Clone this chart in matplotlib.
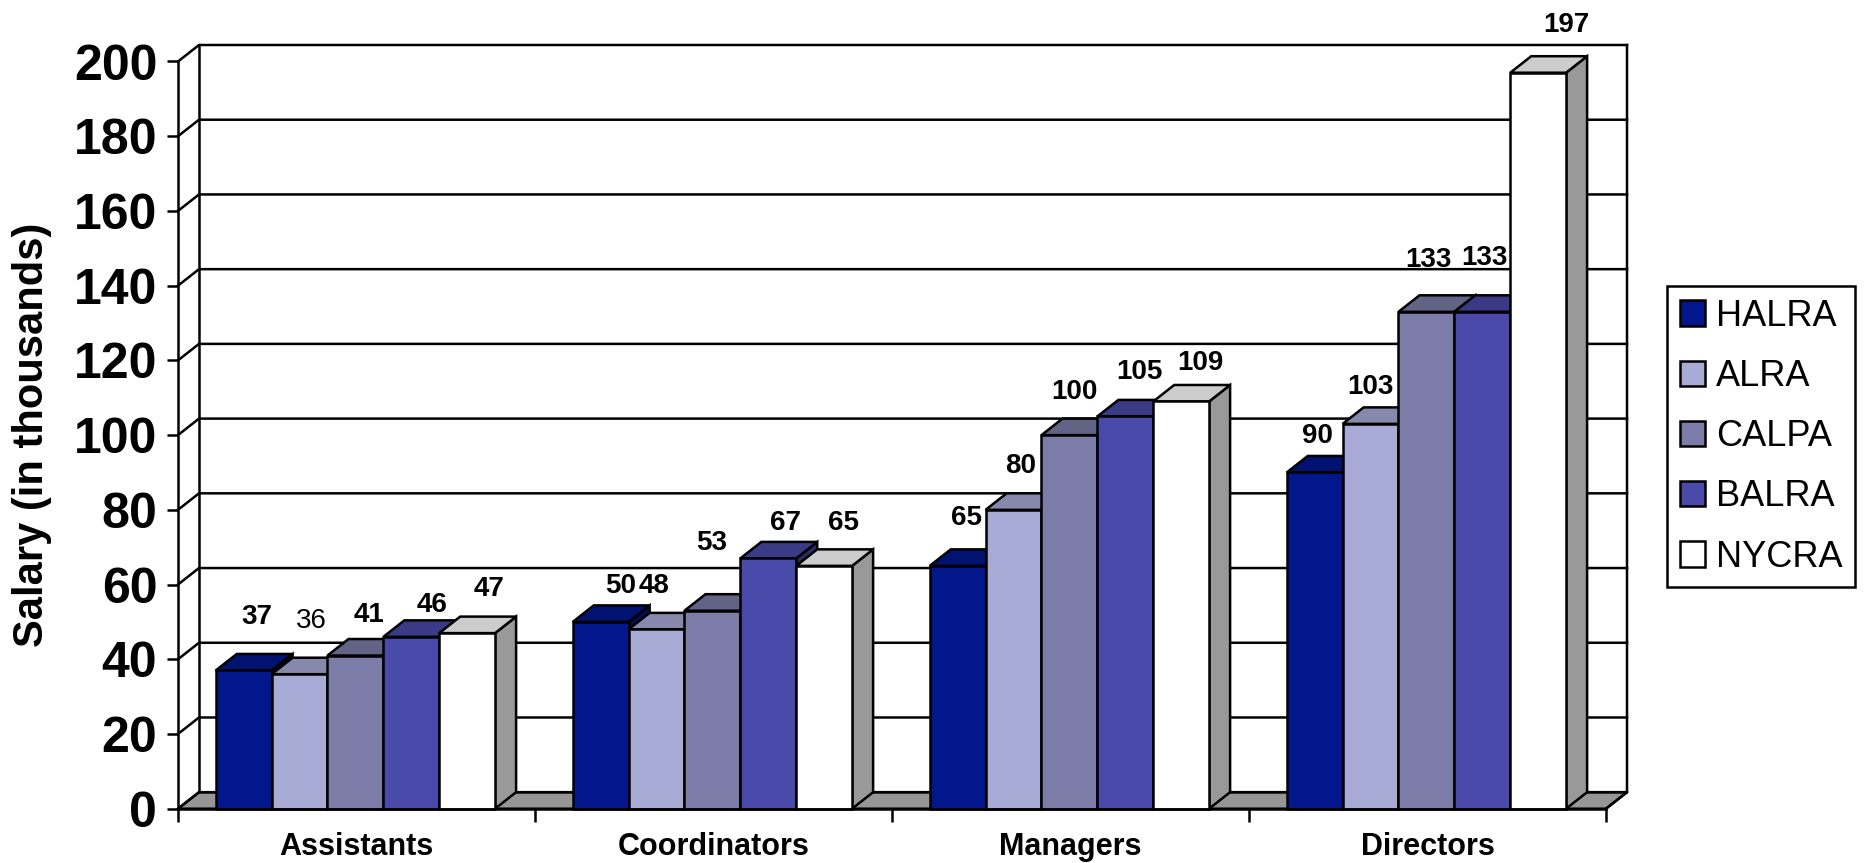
import matplotlib
matplotlib.use('Agg')
import matplotlib.pyplot as plt
from matplotlib.patches import Patch, Polygon
from matplotlib.colors import to_rgb

# Data
categories = ['Assistants', 'Coordinators', 'Managers', 'Directors']
halra = [37, 50, 65, 90]
alra = [36, 48, 80, 103]
calpa = [41, 53, 100, 133]
balra = [46, 67, 105, 133]
nycra = [47, 65, 109, 197]
series_names = ['HALRA', 'ALRA', 'CALPA', 'BALRA', 'NYCRA']
series_values = [halra, alra, calpa, balra, nycra]
y_ticks = list(range(0, 201, 20))

# Style and layout
colors = ['#03178C', '#A9ABD7', '#7C7CA8', '#4849A8', '#FFFFFF']
W, H = 1864, 863
LEFT, RIGHT, BASE, TOP = 178, 1606, 808.7, 61.5
LW = 1.8
bar_w = 0.1565
depth_x = 21 / ((RIGHT - LEFT) / 4)      # 3d depth in axis units
depth_y = 16.5 / ((BASE - TOP) / 200)

# label offsets in pixels from the top centre of each bar (per series, per category)
label_dx = [[13, 20, 9, 3], [12, -2, 7, 0], [14, -1, 5, 2], [21, 17, 14, 2], [22, 19, 19, 28]]
label_dy = [[53, 36, 48, 36], [53, 43, 44, 37], [41, 68, 43, 52], [32, 35, 44, 54], [44, 43, 38, 48]]

plt.rcParams['font.family'] = ['Liberation Sans', 'DejaVu Sans']

fig = plt.figure(figsize=(W / 100, H / 100), dpi=100)
ax = fig.add_axes([LEFT / W, 1 - BASE / H, (RIGHT - LEFT) / W, (BASE - TOP) / H])
ax.set_xlim(0, len(categories))
ax.set_ylim(0, 200)


def shade(color, k):
    return tuple(c * k for c in to_rgb(color))


# back wall and floor
x_end = len(categories)
ax.add_patch(Polygon([(0, 0), (depth_x, depth_y), (x_end + depth_x, depth_y), (x_end, 0)],
                     facecolor='#969696', edgecolor='black', lw=LW, zorder=1, clip_on=False))
for v in y_ticks:
    ax.plot([0, depth_x, x_end + depth_x], [v, v + depth_y, v + depth_y],
            color='black', lw=LW, zorder=1, clip_on=False)
ax.plot([depth_x, depth_x], [depth_y, 200 + depth_y], color='black', lw=LW, zorder=1, clip_on=False)
ax.plot([x_end + depth_x, x_end + depth_x, x_end], [200 + depth_y, depth_y, 0],
        color='black', lw=LW, zorder=1, clip_on=False)

# bars, drawn left to right so that later ones cover earlier ones
z = 3
n = len(series_values)
start = (1 - n * bar_w) / 2 - 0.003
for c in range(len(categories)):
    for s in range(n):
        v = series_values[s][c]
        x0 = c + start + s * bar_w
        x1 = x0 + bar_w
        ax.add_patch(Polygon([(x1, 0), (x1 + depth_x, depth_y), (x1 + depth_x, v + depth_y), (x1, v)],
                             facecolor=shade(colors[s], 0.6),
                             edgecolor='black', lw=LW, zorder=z, clip_on=False))
        ax.add_patch(Polygon([(x0, v), (x0 + depth_x, v + depth_y), (x1 + depth_x, v + depth_y), (x1, v)],
                             facecolor=shade(colors[s], 0.8), edgecolor='black', lw=LW,
                             zorder=z, clip_on=False))
        ax.bar(x0, v, width=bar_w, align='edge', color=colors[s], edgecolor='black', lw=LW,
               zorder=z, clip_on=False)
        z += 0.01
        ax.annotate(str(v), (x0 + bar_w / 2, v), xytext=(label_dx[s][c], label_dy[s][c]),
                    textcoords='offset pixels', ha='center', va='center', fontsize=20,
                    fontweight='normal' if (s == 1 and c == 0) else 'bold', zorder=20,
                    annotation_clip=False)

# axes
for side in ['top', 'right']:
    ax.spines[side].set_visible(False)
for side in ['left', 'bottom']:
    ax.spines[side].set_linewidth(LW)
    ax.spines[side].set_zorder(2)
ax.spines['bottom'].set_zorder(15)

ax.set_yticks(y_ticks)
ax.tick_params(axis='y', length=8, width=LW, pad=7, labelsize=36)
for t in ax.get_yticklabels():
    t.set_fontweight('bold')

ax.set_xticks(range(len(categories) + 1))
ax.set_xticklabels([''] * (len(categories) + 1))
ax.tick_params(axis='x', which='major', length=9, width=LW)
ax.set_xticks([i + 0.5 for i in range(len(categories))], minor=True)
ax.set_xticklabels(categories, minor=True, fontsize=22, fontweight='bold')
ax.tick_params(axis='x', which='minor', length=0, pad=17)

ax.set_ylabel('Salary (in thousands)', fontsize=30, fontweight='bold')
ax.yaxis.set_label_coords(-0.0885, 0.5)

# legend
handles = [Patch(facecolor=col, edgecolor='black', lw=LW) for col in colors]
fig.legend(handles, series_names, loc='upper left', bbox_to_anchor=(1667 / W, 1 - 286 / H),
           bbox_transform=fig.transFigure, fontsize=26, frameon=True, fancybox=False,
           edgecolor='black', framealpha=1, handlelength=0.7, handleheight=0.7,
           handletextpad=0.3, labelspacing=0.7, borderpad=0.35, borderaxespad=0,
           labelcolor='black').get_frame().set_linewidth(LW)

fig.savefig('out.png', dpi=100)
